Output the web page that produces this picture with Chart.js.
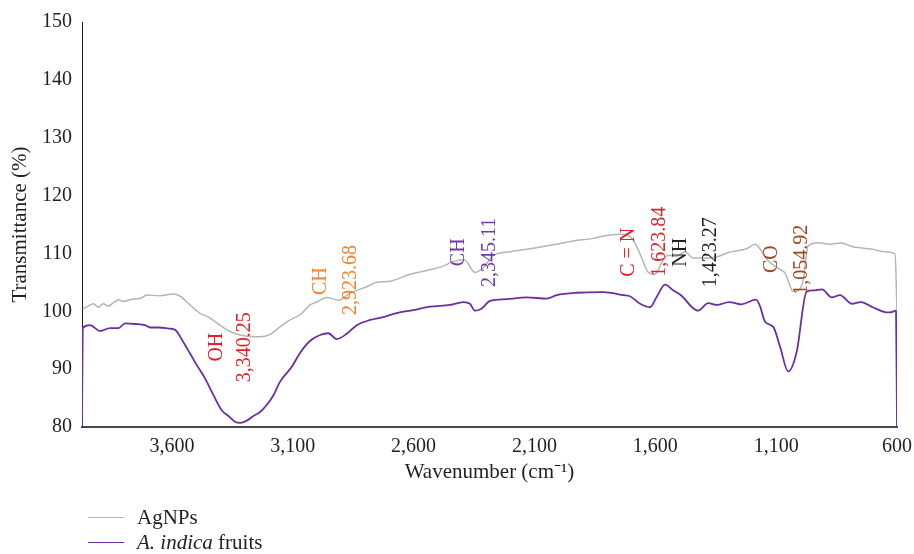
<!DOCTYPE html>
<html>
<head>
<meta charset="utf-8">
<title>FTIR spectra</title>
<script src="https://cdn.jsdelivr.net/npm/chart.js@4.4.1/dist/chart.umd.min.js"></script>
<style>
  html, body { margin: 0; padding: 0; background: #ffffff; }
  #wrap { position: relative; width: 914px; height: 554px; }
  canvas { display: block; }
  .legend {
    position: absolute; left: 88px; top: 505px;
    font-family: "Liberation Serif", "Times New Roman", serif;
    font-size: 21px; color: #231f20;
  }
  .legend .row { display: flex; align-items: center; height: 25px; white-space: nowrap; }
  .legend .swatch { width: 36px; height: 0; border-top: 1.6px solid; margin-right: 13px; }
</style>
</head>
<body>
<div id="wrap">
  <canvas id="chart" width="914" height="554"></canvas>
  <div class="legend">
    <div class="row"><span class="swatch" style="border-color:#b5b5b5"></span><span>AgNPs</span></div>
    <div class="row"><span class="swatch" style="border-color:#6b2fa0"></span><span><i>A. indica</i> fruits</span></div>
  </div>
</div>
<script>
// Silver nanoparticles spectrum: wavenumber (cm-1) and transmittance (%)
const agnpsWavenumber = [3969, 3946, 3925, 3904, 3884, 3863, 3842, 3821, 3801, 3766, 3732, 3704, 3649, 3594, 3566,
  3525, 3484, 3449, 3401, 3359, 3318, 3263, 3215, 3187, 3153, 3111, 3070, 3028, 3001, 2959, 2911, 2863, 2794, 2752,
  2697, 2615, 2546, 2477, 2442, 2390, 2346, 2309, 2270, 2201, 2105, 2022, 1939, 1856, 1815, 1746, 1717, 1691, 1656,
  1630, 1601, 1572, 1546, 1511, 1477, 1443, 1401, 1346, 1291, 1222, 1187, 1167, 1139, 1091, 1063, 1029, 1005, 988,
  968, 926, 877, 829, 787, 739, 698, 650, 608, 600];
const agnpsTransmittance = [100.4, 100.9, 101.3, 100.7, 101.3, 100.9, 101.5, 102.0, 101.7, 102.1, 102.2, 102.8, 102.7,
  103.0, 102.6, 101.1, 99.65, 99.0, 97.6, 96.5, 95.9, 95.6, 95.7, 96.2, 97.3, 98.5, 99.4, 101.1, 101.6, 102.4, 101.9,
  103.1, 104.25, 105.0, 105.2, 106.4, 107.05, 107.8, 108.5, 108.9, 106.7, 107.65, 109.7, 110.3, 110.9, 111.5, 112.15,
  112.6, 113.0, 113.3, 113.2, 112.3, 109.2, 106.8, 106.4, 108.5, 109.7, 109.5, 110.3, 109.2, 109.2, 109.4, 110.25,
  110.8, 111.6, 110.8, 109.0, 107.4, 106.6, 103.4, 103.7, 105.4, 111.3, 111.85, 111.6, 111.8, 111.2, 110.9, 110.7,
  110.3, 109.9, 100.1];

// Fruit extract spectrum
const fruitWavenumber = [3972, 3969, 3939, 3897, 3856, 3821, 3794, 3752, 3711, 3690, 3656, 3608, 3587, 3553, 3525,
  3497, 3463, 3428, 3394, 3366, 3339, 3318, 3290, 3263, 3235, 3208, 3180, 3153, 3104, 3070, 3028, 2987, 2953, 2918,
  2877, 2835, 2780, 2725, 2670, 2601, 2532, 2449, 2394, 2367, 2346, 2318, 2284, 2215, 2132, 2049, 2008, 1925, 1815,
  1732, 1705, 1663, 1622, 1594, 1560, 1525, 1489, 1448, 1423, 1381, 1345, 1295, 1245, 1183, 1167, 1146, 1112, 1084,
  1050, 1015, 974, 946, 910, 870, 836, 787, 749, 701, 654, 629, 604, 600];
const fruitTransmittance = [80, 97.1, 97.6, 96.6, 97.1, 97.1, 97.9, 97.8, 97.6, 97.2, 97.2, 97.0, 96.8, 94.7, 92.7,
  90.7, 88.4, 85.5, 82.9, 81.9, 80.9, 80.7, 81.1, 81.9, 82.6, 83.8, 85.5, 87.8, 90.4, 92.8, 94.9, 95.9, 96.2, 95.2,
  96.1, 97.6, 98.5, 99.0, 99.7, 100.2, 100.8, 101.1, 101.6, 101.3, 100.1, 100.5, 101.8, 102.1, 102.4, 102.2, 102.8,
  103.2, 103.3, 102.8, 102.6, 101.3, 100.7, 102.5, 104.6, 103.6, 102.6, 100.7, 100.1, 101.4, 101.1, 101.6, 101.2,
  102.0, 100.9, 98.2, 97.3, 93.9, 89.6, 93.0, 103.4, 103.6, 103.8, 102.4, 102.8, 101.3, 101.6, 100.7, 99.9, 99.8,
  100.1, 80];

// Axis ticks
const xTickValues = [3600, 3100, 2600, 2100, 1600, 1100, 600];
const yTickValues = [80, 90, 100, 110, 120, 130, 140, 150];

// Band assignments written vertically beside the peaks (anchor in wavenumber / transmittance)
const bandLabels = [
  { text: 'OH',       x: 3413, y: 93.8,  color: '#ec1c24' },
  { text: '3,340.25', x: 3297, y: 93.8,  color: '#ec1c24' },
  { text: 'CH',       x: 2983, y: 105.2, color: '#f5822f' },
  { text: '2,923.68', x: 2859, y: 105.4, color: '#f5822f' },
  { text: 'CH',       x: 2412, y: 110.2, color: '#7438a8' },
  { text: '2,345.11', x: 2284, y: 110.2, color: '#7438a8' },
  { text: 'C = N',    x: 1709, y: 110.2, color: '#d7262d' },
  { text: '1,623.84', x: 1580, y: 112.0, color: '#d7262d' },
  { text: 'NH',       x: 1494, y: 110.2, color: '#231f20' },
  { text: '1,423.27', x: 1370, y: 110.2, color: '#231f20' },
  { text: 'CO',       x: 1117, y: 109.0, color: '#a2471f' },
  { text: '1,054.92', x: 993,  y: 108.9, color: '#a2471f' }
];

const serif = '"Liberation Serif", "Times New Roman", serif';
const ink = '#231f20';

function toPoints(xs, ys) {
  return xs.map((v, i) => ({ x: v, y: ys[i] }));
}

const bandLabelPlugin = {
  id: 'bandLabels',
  afterDatasetsDraw(chart) {
    const { ctx, scales: { x, y } } = chart;
    ctx.save();
    ctx.font = '20px ' + serif;
    ctx.textAlign = 'center';
    ctx.textBaseline = 'middle';
    for (const l of bandLabels) {
      ctx.save();
      ctx.translate(x.getPixelForValue(l.x), y.getPixelForValue(l.y));
      ctx.rotate(-Math.PI / 2);
      ctx.fillStyle = l.color;
      ctx.fillText(l.text, 0, 0);
      ctx.restore();
    }
    ctx.restore();
  }
};

Chart.defaults.font.family = serif;
Chart.defaults.color = ink;

new Chart(document.getElementById('chart'), {
  type: 'line',
  data: {
    datasets: [
      {
        label: 'AgNPs',
        data: toPoints(agnpsWavenumber, agnpsTransmittance),
        borderColor: '#b5b5b5',
        borderWidth: 1.5,
        cubicInterpolationMode: 'monotone',
        pointRadius: 0,
        fill: false
      },
      {
        label: 'A. indica fruits',
        data: toPoints(fruitWavenumber, fruitTransmittance),
        borderColor: '#6b2fa0',
        borderWidth: 1.8,
        cubicInterpolationMode: 'monotone',
        pointRadius: 0,
        fill: false
      }
    ]
  },
  options: {
    responsive: false,
    animation: false,
    devicePixelRatio: 1,
    layout: { padding: { left: 0, right: 17, top: 22, bottom: 0 } },
    plugins: { legend: { display: false }, tooltip: { enabled: false } },
    scales: {
      x: {
        type: 'linear',
        reverse: true,
        min: 600,
        max: 3972,
        afterBuildTicks(scale) { scale.ticks = xTickValues.map(v => ({ value: v })); },
        afterFit(scale) { scale.height = 127; scale.paddingLeft = 0; scale.paddingRight = 0; },
        grid: { display: false, drawTicks: false },
        border: { display: true, color: '#4a4a4a', width: 2 },
        ticks: {
          padding: 8, autoSkip: false, maxRotation: 0, color: ink,
          font: { size: 20 },
          callback: v => v.toLocaleString('en-US')
        },
        title: {
          display: true, text: 'Wavenumber (cm\u207B\u00B9)', color: ink,
          font: { size: 21 }, padding: { top: 0, bottom: 69 }
        }
      },
      y: {
        type: 'linear',
        min: 80,
        max: 150,
        afterBuildTicks(scale) { scale.ticks = yTickValues.map(v => ({ value: v })); },
        afterFit(scale) { scale.width = 82; scale.paddingTop = 0; scale.paddingBottom = 0; },
        grid: { display: false, drawTicks: false },
        border: { display: true, color: '#1a1a1a', width: 1 },
        ticks: { padding: 10, color: ink, font: { size: 20 } },
        title: {
          display: true, text: 'Transmittance (%)', color: ink,
          font: { size: 21 }, padding: { top: 8, bottom: 0 }
        }
      }
    }
  },
  plugins: [bandLabelPlugin]
});
</script>
</body>
</html>
